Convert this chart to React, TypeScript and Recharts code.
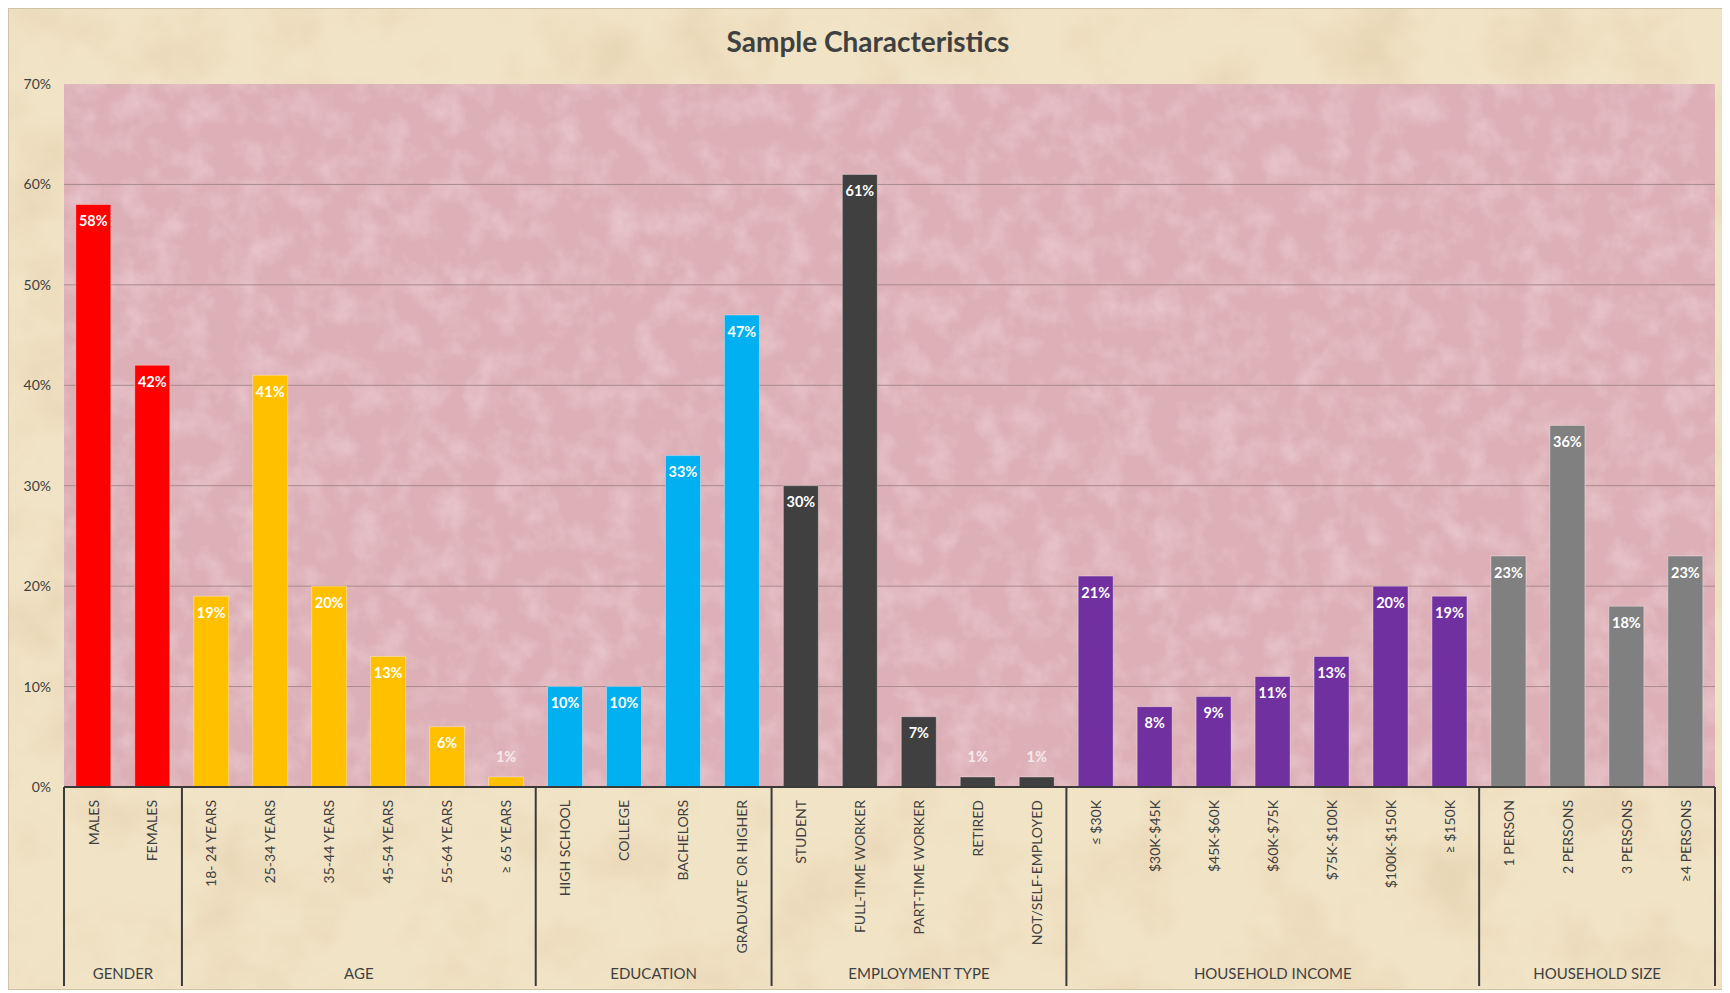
import { BarChart, Bar, XAxis, YAxis, CartesianGrid, Cell, LabelList } from 'recharts';

const categories = [
  'MALES', 'FEMALES',
  '18- 24 YEARS', '25-34 YEARS', '35-44 YEARS', '45-54 YEARS', '55-64 YEARS', '≥ 65 YEARS',
  'HIGH SCHOOL', 'COLLEGE', 'BACHELORS', 'GRADUATE OR HIGHER',
  'STUDENT', 'FULL-TIME WORKER', 'PART-TIME WORKER', 'RETIRED', 'NOT/SELF-EMPLOYED',
  '≤ $30K', '$30K-$45K', '$45K-$60K', '$60K-$75K', '$75K-$100K', '$100K-$150K', '≥ $150K',
  '1 PERSON', '2 PERSONS', '3 PERSONS', '≥4 PERSONS',
];

const values = [
  58, 42,
  19, 41, 20, 13, 6, 1,
  10, 10, 33, 47,
  30, 61, 7, 1, 1,
  21, 8, 9, 11, 13, 20, 19,
  23, 36, 18, 23,
];

const groupNames = ['GENDER', 'AGE', 'EDUCATION', 'EMPLOYMENT TYPE', 'HOUSEHOLD INCOME', 'HOUSEHOLD SIZE'];
const groupSizes = [2, 6, 4, 5, 7, 4];
const groupColors = ['#FF0000', '#FFC000', '#00B0F0', '#404040', '#7030A0', '#808080'];

const yTicks = [0, 10, 20, 30, 40, 50, 60, 70];
const gridValues = [10, 20, 30, 40, 50, 60];

// which group each category belongs to
const groupOf: number[] = [];
groupSizes.forEach((n, g) => {
  for (let k = 0; k < n; k++) groupOf.push(g);
});
const groupStart: number[] = [];
groupSizes.reduce((acc, n) => {
  groupStart.push(acc);
  return acc + n;
}, 0);

const data = categories.map((name, i) => ({ name, value: values[i], group: groupOf[i] }));

const FONT = 'Lato, "Open Sans", sans-serif';
const TEXT = '#404040';

function CategoryTick(props: any) {
  const { x, y, payload } = props;
  const i = props.index ?? payload.index;
  const half = payload.offset ?? 29.5;
  const g = groupOf[i];
  const isStart = groupStart[g] === i;
  const isLast = i === categories.length - 1;
  const n = groupSizes[g];
  const groupCenter = x - half + n * half;
  return (
    <g>
      <text
        transform={`translate(${x},${y + 13}) rotate(-90)`}
        textAnchor="end"
        dy="0.36em"
        fontSize={14}
        fontFamily={FONT}
        fill={TEXT}
      >
        {payload.value}
      </text>
      {isStart && (
        <>
          <line x1={x - half} x2={x - half} y1={y} y2={y + 199} stroke="#3a3a3a" strokeWidth={2} />
          <text
            x={groupCenter}
            y={y + 188}
            textAnchor="middle"
            dominantBaseline="middle"
            fontSize={15}
            fontFamily={FONT}
            fill={TEXT}
          >
            {groupNames[g]}
          </text>
        </>
      )}
      {isLast && (
        <line x1={x + half} x2={x + half} y1={y} y2={y + 199} stroke="#3a3a3a" strokeWidth={2} />
      )}
    </g>
  );
}

function ValueLabel(props: any) {
  const { x, y, width, value } = props;
  const inside = value >= 3;
  return (
    <text
      x={x + width / 2}
      y={inside ? y + 18 : y - 19}
      textAnchor="middle"
      dominantBaseline="middle"
      fontSize={14.5}
      fontWeight={700}
      fontFamily={FONT}
      fill={inside ? '#ffffff' : '#f6e8ec'}
    >
      {`${value}%`}
    </text>
  );
}

// paper-like texture for the chart and plot backgrounds
function Textures() {
  return (
    <svg width={0} height={0} style={{ position: 'absolute' }}>
      <defs>
        <filter id="mottle" x="0" y="0" width="100%" height="100%">
          <feTurbulence type="fractalNoise" baseFrequency="0.012" numOctaves={4} seed={7} />
          <feColorMatrix
            type="matrix"
            values="0 0 0 0 0.72  0 0 0 0 0.55  0 0 0 0 0.35  0.9 0 0 0 -0.38"
          />
        </filter>
        <filter id="mottlePink" x="0" y="0" width="100%" height="100%">
          <feTurbulence type="fractalNoise" baseFrequency="0.035" numOctaves={4} seed={3} />
          <feColorMatrix
            type="matrix"
            values="0 0 0 0 0.98  0 0 0 0 0.86  0 0 0 0 0.88  0.7 0 0 0 -0.3"
          />
        </filter>
        <pattern id="pinkPaper" patternUnits="userSpaceOnUse" width={1730} height={993}>
          <rect width={1730} height={993} fill="#ddb0b7" />
          <rect width={1730} height={993} filter="url(#mottlePink)" />
        </pattern>
      </defs>
    </svg>
  );
}

export default function App() {
  return (
    <div
      style={{
        position: 'relative',
        width: 1720,
        height: 982,
        background: '#f1e4c6',
        boxSizing: 'border-box',
        border: '1px solid #cfc3a6',
        overflow: 'hidden',
      }}
    >
      <Textures />
      <svg width={1718} height={980} style={{ position: 'absolute', left: 0, top: 0 }}>
        <rect width={1718} height={980} filter="url(#mottle)" />
      </svg>
      <div
        style={{
          position: 'absolute',
          top: 15,
          left: 0,
          width: '100%',
          textAlign: 'center',
          fontFamily: FONT,
          fontWeight: 700,
          fontSize: 28,
          color: TEXT,
        }}
      >
        Sample Characteristics
      </div>
      <div style={{ position: 'absolute', left: 0, top: 0 }}>
        <BarChart
          width={1718}
          height={980}
          data={data}
          margin={{ top: 75, right: 12, left: 0, bottom: 0 }}
          barCategoryGap="20%"
        >
          <CartesianGrid
            vertical={false}
            horizontalValues={gridValues}
            stroke="#a88a8c"
            fill="url(#pinkPaper)"
            fillOpacity={1}
          />
          <XAxis
            dataKey="name"
            interval={0}
            height={202}
            tickSize={0}
            tickMargin={0}
            tickLine={false}
            axisLine={{ stroke: '#3a3a3a', strokeWidth: 2 }}
            tick={<CategoryTick />}
          />
          <YAxis
            width={55}
            domain={[0, 70]}
            ticks={yTicks}
            axisLine={false}
            tickLine={false}
            tickSize={10}
            tickMargin={3}
            tickFormatter={(v) => `${v}%`}
            tick={{ fontSize: 14, fontFamily: FONT, fill: TEXT }}
          />
          <Bar dataKey="value" isAnimationActive={false} stroke="rgba(255,255,255,0.35)" strokeWidth={1}>
            {data.map((d, i) => (
              <Cell key={i} fill={groupColors[d.group]} />
            ))}
            <LabelList dataKey="value" content={<ValueLabel />} />
          </Bar>
        </BarChart>
      </div>
    </div>
  );
}
